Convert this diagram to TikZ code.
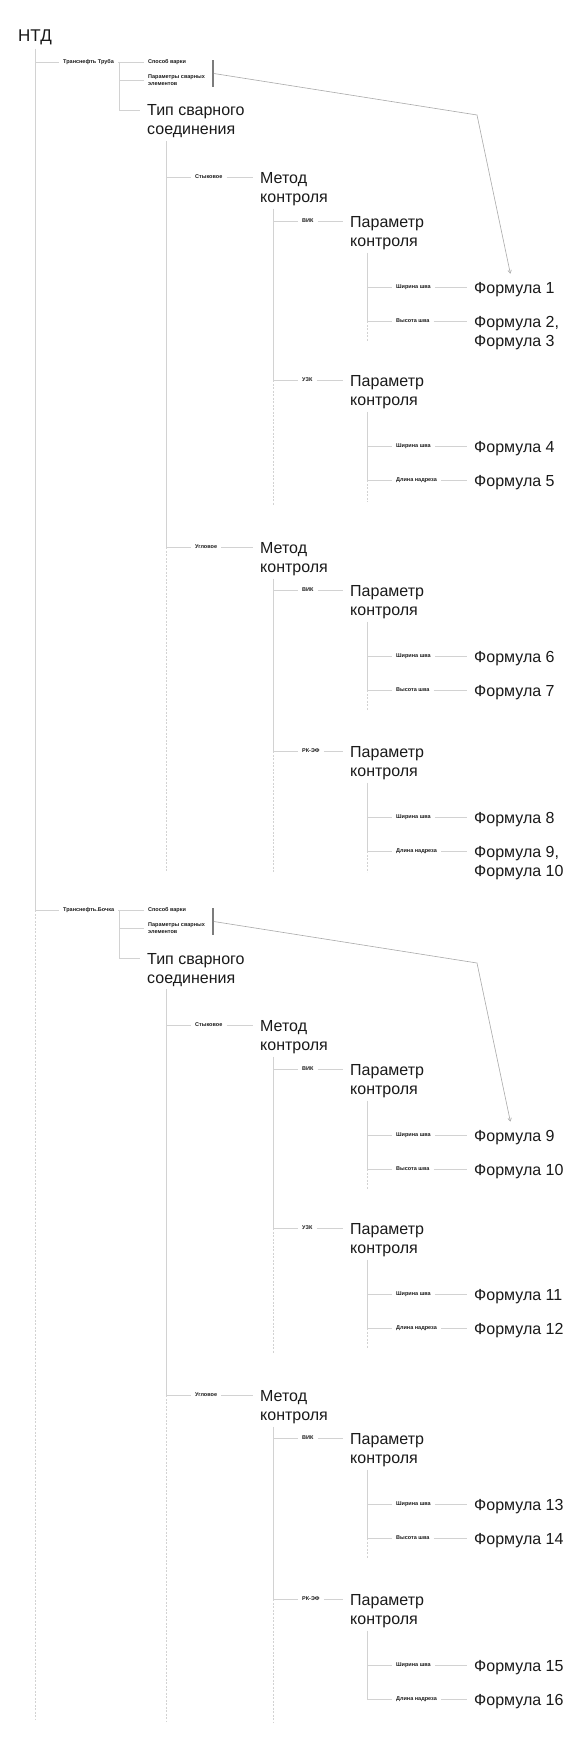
\documentclass[tikz,border=0pt]{standalone}
\usepackage{fontspec}
\setmainfont{Liberation Sans}
\usepackage{tikz}
\usetikzlibrary{arrows.meta}
\definecolor{TreeGray}{HTML}{D2D2D2}
\definecolor{PointerGray}{HTML}{A9A9A9}
\definecolor{BarGray}{HTML}{7C7C7C}
\definecolor{InkBlack}{HTML}{1A1A1A}
\newcommand{\tagfont}{\fontsize{5.5}{7}\selectfont\bfseries}
\newcommand{\headfont}{\fontsize{16}{19}\selectfont}
% two lines, the first one on the baseline
\newcommand{\twolines}[2]{\vtop{\hbox{#1}\hbox{#2}}}

% one "Параметр контроля" group: name, y, method, row 1, formula 1, row 2, formula 2, tail, parent line
\newcommand{\ctrlgroup}[9]{%
  \node[tag] (#1) at (298,#2) {#3};
  \node[head] (#1-p) at (343,#2+6) {\twolines{Параметр}{контроля}};
  \node[tag] (#1-r1) at (392,#2+66) {#4};
  \node[head] (#1-f1) at (467,#2+72) {#5};
  \node[tag] (#1-r2) at (392,#2+100) {#6};
  \node[head] (#1-f2) at (467,#2+106) {#7};
  \coordinate (#1-v) at ([xshift=24pt]#1-p.south west);
  \draw[line] (#9 |- #1) -- (#1);
  \draw[line] (#1.east) -- ([yshift=6pt]#1-p.base west);
  \draw[line] (#1-v) -- (#1-v |- #1-r2) -- (#1-r2);
  \draw[line] (#1-v |- #1-r1) -- (#1-r1);
  \draw[line] (#1-r1.east) -- ([yshift=6pt]#1-f1.base west);
  \draw[line] (#1-r2.east) -- ([yshift=6pt]#1-f2.base west);
  \draw[tail] (#1-v |- #1-r2) -- ++(0,#8);
}
% one "Метод контроля" head: name, y, joint, parent line
\newcommand{\metgroup}[4]{%
  \node[tag] (#1) at (191,#2) {#3};
  \node[head] (#1-m) at (253,#2+6) {\twolines{Метод}{контроля}};
  \coordinate (#1-v) at ([xshift=20pt]#1-m.south west);
  \draw[line] (#4 |- #1) -- (#1);
  \draw[line] (#1.east) -- ([yshift=6pt]#1-m.base west);
}

\begin{document}
\begin{tikzpicture}[x=1pt,y=-1pt,
    line/.style={draw=TreeGray,line width=0.7pt},
    tail/.style={draw=TreeGray,line width=0.7pt,dash pattern=on 2pt off 1.5pt},
    pointer/.style={draw=PointerGray,line width=0.6pt,-{Straight Barb[length=3pt,width=3.5pt]}},
    bar/.style={fill=BarGray,inner sep=0pt,minimum width=1.3pt,minimum height=27pt},
    tag/.style={font=\tagfont,text=InkBlack,anchor=west,inner xsep=4pt,inner ysep=1pt,align=left},
    head/.style={font=\headfont,text=InkBlack,anchor=base west,inner xsep=7pt,inner ysep=3pt}]
  \useasboundingbox (0,0) rectangle (584,1747);
  \fill[white] (0,0) rectangle (584,1747);

  \node[head,font=\fontsize{17}{20}\selectfont] (ntd) at (11,42) {НТД};
  \coordinate (spine) at (ntd.south);

  % Транснефть Труба
  \node[tag] (pipe) at (59,62) {Транснефть Труба};
  \node[tag] (pipe-way) at (144,62) {Способ варки};
  \node[tag] (pipe-el) at (144,80) {Параметры сварных\\элементов};
  \node[head] (pipe-typ) at (140,116) {\twolines{Тип сварного}{соединения}};
  \node[bar] (pipe-bar) at (213,73.5) {};
  \coordinate (pipe-v) at (119,62);
  \coordinate (pipe-bend) at (477,115);
  \coordinate (pipe-tv) at ([xshift=26pt]pipe-typ.south west);
  \draw[line] (spine |- pipe) -- (pipe);
  \draw[line] (pipe.east) -- (pipe-way.west);
  \draw[line] (pipe-v |- pipe-el) -- (pipe-el);
  \draw[line] (pipe-v) |- ([yshift=6pt]pipe-typ.base west);

  \metgroup{pipe-st}{177}{Стыковое}{pipe-tv}
  \ctrlgroup{pipe-st1}{221}{ВИК}{Ширина шва}{Формула 1}{Высота шва}{\twolines{Формула 2,}{Формула 3}}{21}{pipe-st-v}
  \ctrlgroup{pipe-st2}{380}{УЗК}{Ширина шва}{Формула 4}{Длина надреза}{Формула 5}{22}{pipe-st-v}
  \draw[line] (pipe-st-v) -- (pipe-st-v |- pipe-st2);
  \draw[tail] (pipe-st-v |- pipe-st2) -- ++(0,125);

  \metgroup{pipe-an}{547}{Угловое}{pipe-tv}
  \ctrlgroup{pipe-an1}{590}{ВИК}{Ширина шва}{Формула 6}{Высота шва}{Формула 7}{21}{pipe-an-v}
  \ctrlgroup{pipe-an2}{751}{РК-ЭФ}{Ширина шва}{Формула 8}{Длина надреза}{\twolines{Формула 9,}{Формула 10}}{21}{pipe-an-v}
  \draw[line] (pipe-an-v) -- (pipe-an-v |- pipe-an2);
  \draw[tail] (pipe-an-v |- pipe-an2) -- ++(0,121);

  \draw[line] (pipe-tv) -- (pipe-tv |- pipe-an);
  \draw[tail] (pipe-tv |- pipe-an) -- ++(0,325);
  \draw[pointer] (pipe-bar.east) -- (pipe-bend) -- ([xshift=-4pt,yshift=5pt]pipe-st1-f1.north);

  % Транснефть.Бочка
  \begin{scope}[yshift=-848pt]
    \node[tag] (tank) at (59,62) {Транснефть.Бочка};
    \node[tag] (tank-way) at (144,62) {Способ варки};
    \node[tag] (tank-el) at (144,80) {Параметры сварных\\элементов};
    \node[head] (tank-typ) at (140,116) {\twolines{Тип сварного}{соединения}};
    \node[bar] (tank-bar) at (213,73.5) {};
    \coordinate (tank-v) at (119,62);
    \coordinate (tank-bend) at (477,115);
    \coordinate (tank-tv) at ([xshift=26pt]tank-typ.south west);
    \draw[line] (spine |- tank) -- (tank);
    \draw[line] (tank.east) -- (tank-way.west);
    \draw[line] (tank-v |- tank-el) -- (tank-el);
    \draw[line] (tank-v) |- ([yshift=6pt]tank-typ.base west);

    \metgroup{tank-st}{177}{Стыковое}{tank-tv}
    \ctrlgroup{tank-st1}{221}{ВИК}{Ширина шва}{Формула 9}{Высота шва}{Формула 10}{21}{tank-st-v}
    \ctrlgroup{tank-st2}{380}{УЗК}{Ширина шва}{Формула 11}{Длина надреза}{Формула 12}{21}{tank-st-v}
    \draw[line] (tank-st-v) -- (tank-st-v |- tank-st2);
    \draw[tail] (tank-st-v |- tank-st2) -- ++(0,125);

    \metgroup{tank-an}{547}{Угловое}{tank-tv}
    \ctrlgroup{tank-an1}{590}{ВИК}{Ширина шва}{Формула 13}{Высота шва}{Формула 14}{21}{tank-an-v}
    \ctrlgroup{tank-an2}{751}{РК-ЭФ}{Ширина шва}{Формула 15}{Длина надреза}{Формула 16}{0}{tank-an-v}
    \draw[line] (tank-an-v) -- (tank-an-v |- tank-an2);
    \draw[tail] (tank-an-v |- tank-an2) -- ++(0,124);

    \draw[line] (tank-tv) -- (tank-tv |- tank-an);
    \draw[tail] (tank-tv |- tank-an) -- ++(0,326);
    \draw[pointer] (tank-bar.east) -- (tank-bend) -- ([xshift=-4pt,yshift=5pt]tank-st1-f1.north);
  \end{scope}

  \draw[line] (spine) -- (spine |- tank);
  \draw[tail] (spine |- tank) -- ++(0,810);
\end{tikzpicture}
\end{document}
